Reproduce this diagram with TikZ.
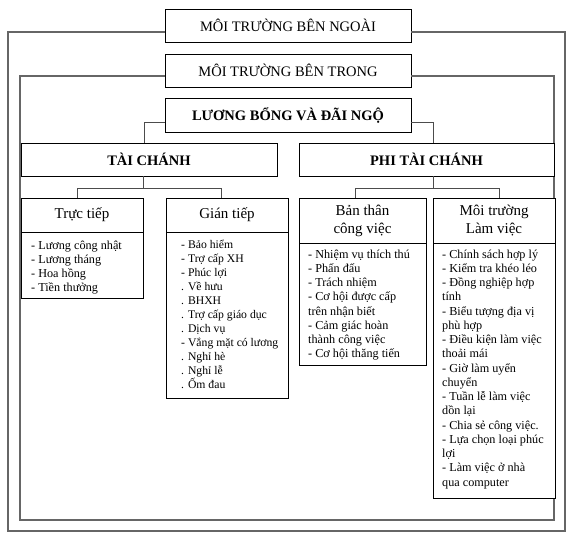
\documentclass[tikz,border=0pt]{standalone}
\usepackage{fontspec}
\setmainfont{Liberation Serif}
\begin{document}
\begin{tikzpicture}[x=1pt,y=-1pt,
  frame/.style={draw=black!60,line width=1.1pt},
  conn/.style={draw=black!70,line width=0.9pt},
  box/.style={draw=black,line width=0.8pt,fill=white,inner sep=0pt},
  topbox/.style={box,minimum width=246pt,minimum height=33pt,font=\fontsize{14.5}{17}\selectfont},
  catbox/.style={box,minimum height=33pt,font=\bfseries\fontsize{14.5}{17}\selectfont},
  headbox/.style={box,font=\fontsize{15}{18}\selectfont,align=center},
  bodybox/.style={box},
  listtext/.style={anchor=base west,inner sep=0pt,align=left},
  lista/.style={listtext,font=\fontsize{12.2}{14}\selectfont},
  listg/.style={listtext,font=\fontsize{11.7}{14}\selectfont},
  listb/.style={listtext,font=\fontsize{12.2}{14.25}\selectfont}]
\useasboundingbox (0,0) rectangle (575,538);
% coordinates for frames and connectors
\coordinate (y32) at (0,32);
\coordinate (y76) at (0,76);
\coordinate (ol) at (8,531);
\coordinate (or) at (565,531);
\coordinate (il) at (20,520);
\coordinate (ir) at (554,520);
\coordinate (f3l) at (144,122);
\coordinate (f3r) at (433,122);
\coordinate (tcl) at (77,188);
\coordinate (tcm) at (143,188);
\coordinate (tcr) at (221,188);
\coordinate (pcl) at (355,188);
\coordinate (pcm) at (433,188);
\coordinate (pcr) at (499,188);
% top boxes
\node[topbox] (ext) at (288,25.5) {MÔI TRƯỜNG BÊN NGOÀI};
\node[topbox] (int) at (288,70.5) {MÔI TRƯỜNG BÊN TRONG};
\node[topbox,minimum height=34pt,font=\bfseries\fontsize{14.5}{17}\selectfont] (lb) at (288,115) {LƯƠNG BỔNG VÀ ĐÃI NGỘ};
% frames
\draw[frame] (ext.west |- y32) -- (ol |- y32) -- (ol) -- (or) -- (or |- y32) -- (ext.east |- y32);
\draw[frame] (int.west |- y76) -- (il |- y76) -- (il) -- (ir) -- (ir |- y76) -- (int.east |- y76);
% category boxes
\node[catbox,minimum width=256pt] (tc) at (149,159.5) {TÀI CHÁNH};
\node[catbox,minimum width=255pt] (ptc) at (426.5,159.5) {PHI TÀI CHÁNH};
\draw[conn] (tc.north -| f3l) -- (f3l) -- (lb.west |- f3l);
\draw[conn] (lb.east |- f3r) -- (f3r) -- (ptc.north -| f3r);
% sub boxes
\node[headbox,minimum width=122pt,minimum height=34pt] (tth) at (82,215) {Trực tiếp};
\node[bodybox,minimum width=122pt,minimum height=66pt] (ttb) at (82,265) {};
\node[headbox,minimum width=122pt,minimum height=34pt] (gth) at (227,215) {Gián tiếp};
\node[bodybox,minimum width=122pt,minimum height=166pt] (gtb) at (227,315) {};
\node[headbox,minimum width=127pt,minimum height=45pt] (bth) at (362.5,220.5) {Bản thân\\công việc};
\node[bodybox,minimum width=127pt,minimum height=122pt] (btb) at (362.5,304) {};
\node[headbox,minimum width=122pt,minimum height=45pt] (mth) at (494,220.5) {Môi trường\\Làm việc};
\node[bodybox,minimum width=122pt,minimum height=255pt] (mtb) at (494,370.5) {};
% brackets
\draw[conn] (tc.south -| tcm) -- (tcm);
\draw[conn] (tth.north -| tcl) -- (tcl) -- (tcr) -- (gth.north -| tcr);
\draw[conn] (ptc.south -| pcm) -- (pcm);
\draw[conn] (bth.north -| pcl) -- (pcl) -- (pcr) -- (mth.north -| pcr);
% lists (anchored at the baseline of their last line)
\node[lista] (ttl) at (31,291) {- Lương công nhật\\- Lương tháng\\- Hoa hồng\\- Tiền thưởng};
\node[listg] (gtl) at (181,388) {- Bảo hiểm\\- Trợ cấp XH\\- Phúc lợi\\. Về hưu\\. BHXH\\. Trợ cấp giáo dục\\. Dịch vụ\\- Vắng mặt có lương\\. Nghỉ hè\\. Nghỉ lễ\\. Ốm đau};
\node[listb] (btl) at (308,357.75) {- Nhiệm vụ thích thú\\- Phấn đấu\\- Trách nhiệm\\- Cơ hội được cấp\\trên nhận biết\\- Cảm giác hoàn\\thành công việc\\- Cơ hội thăng tiến};
\node[listb] (mtl) at (442,486) {- Chính sách hợp lý\\- Kiểm tra khéo léo\\- Đồng nghiệp hợp\\tính\\- Biểu tượng địa vị\\phù hợp\\- Điều kiện làm việc\\thoải mái\\- Giờ làm uyển\\chuyển\\- Tuần lễ làm việc\\dồn lại\\- Chia sẻ công việc.\\- Lựa chọn loại phúc\\lợi\\- Làm việc ở nhà\\qua computer};
\end{tikzpicture}
\end{document}
